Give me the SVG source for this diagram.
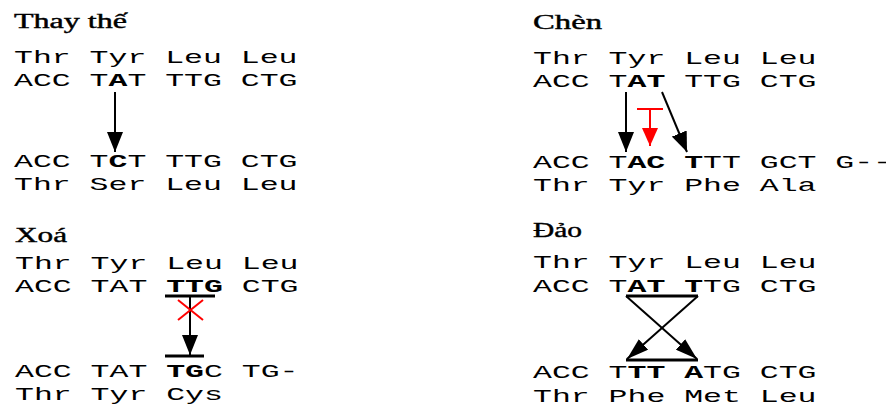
<svg xmlns="http://www.w3.org/2000/svg" width="886" height="408" viewBox="0 0 886 408">
<style>
.t{font-family:"Liberation Serif","Times New Roman",serif;font-weight:normal;font-size:20px;fill:#000;stroke:#000;stroke-width:0.4}
.m{font-family:"Liberation Mono","Courier New",monospace;font-size:19px;fill:#000}
.b{font-weight:bold}
.ln{stroke:#000;stroke-width:2;fill:none}
.rl{stroke:#f00;stroke-width:2;fill:none}
.bar{stroke:#000;stroke-width:3;fill:none}
</style>
<defs>
<marker id="ah" markerUnits="userSpaceOnUse" viewBox="0 0 20 16" refX="20" refY="8" markerWidth="20" markerHeight="16" orient="auto"><path d="M0,0 L20,8 L0,16 Z" fill="#000"/></marker>
<marker id="ahr" markerUnits="userSpaceOnUse" viewBox="0 0 18 16" refX="18" refY="8" markerWidth="18" markerHeight="16" orient="auto"><path d="M0,0 L18,8 L0,16 Z" fill="#f00"/></marker>
<marker id="ahd" markerUnits="userSpaceOnUse" viewBox="0 0 22 14" refX="22" refY="7" markerWidth="22" markerHeight="14" orient="auto"><path d="M0,0 L22,7 L0,14 Z" fill="#000"/></marker>
</defs>
<rect width="886" height="408" fill="#fff"/>
<g id="thay-the">
<text class="t" x="14" y="28" textLength="113" lengthAdjust="spacingAndGlyphs">Thay thế</text>
<text class="m" x="14" y="63" textLength="283.5" lengthAdjust="spacingAndGlyphs" xml:space="preserve">Thr Tyr Leu Leu</text>
<text class="m" x="14" y="86" textLength="283.5" lengthAdjust="spacingAndGlyphs" xml:space="preserve">ACC T<tspan class="b">A</tspan>T TTG CTG</text>
<text class="m" x="14" y="167" textLength="283.5" lengthAdjust="spacingAndGlyphs" xml:space="preserve">ACC T<tspan class="b">C</tspan>T TTG CTG</text>
<text class="m" x="14" y="190" textLength="283.5" lengthAdjust="spacingAndGlyphs" xml:space="preserve">Thr Ser Leu Leu</text>
</g>
<g id="chen">
<text class="t" x="533" y="29" textLength="69" lengthAdjust="spacingAndGlyphs">Chèn</text>
<text class="m" x="533" y="64" textLength="283.5" lengthAdjust="spacingAndGlyphs" xml:space="preserve">Thr Tyr Leu Leu</text>
<text class="m" x="533" y="87" textLength="283.5" lengthAdjust="spacingAndGlyphs" xml:space="preserve">ACC T<tspan class="b">AT</tspan> TTG CTG</text>
<text class="m" x="533" y="168" textLength="359" lengthAdjust="spacingAndGlyphs" xml:space="preserve">ACC T<tspan class="b">AC</tspan> <tspan class="b">T</tspan>TT GCT G--</text>
<text class="m" x="533" y="191" textLength="283.5" lengthAdjust="spacingAndGlyphs" xml:space="preserve">Thr Tyr Phe Ala</text>
</g>
<g id="xoa">
<text class="t" x="15" y="242" textLength="52" lengthAdjust="spacingAndGlyphs">Xoá</text>
<text class="m" x="15" y="269" textLength="283.5" lengthAdjust="spacingAndGlyphs" xml:space="preserve">Thr Tyr Leu Leu</text>
<text class="m" x="15" y="292" textLength="283.5" lengthAdjust="spacingAndGlyphs" xml:space="preserve">ACC TAT <tspan class="b">TTG</tspan> CTG</text>
<text class="m" x="15" y="377" textLength="283.5" lengthAdjust="spacingAndGlyphs" xml:space="preserve">ACC TAT <tspan class="b">TG</tspan>C TG-</text>
<text class="m" x="15" y="400" textLength="207.9" lengthAdjust="spacingAndGlyphs" xml:space="preserve">Thr Tyr Cys</text>
</g>
<g id="dao">
<text class="t" x="533" y="237" textLength="49" lengthAdjust="spacingAndGlyphs">Đảo</text>
<text class="m" x="533" y="268" textLength="283.5" lengthAdjust="spacingAndGlyphs" xml:space="preserve">Thr Tyr Leu Leu</text>
<text class="m" x="533" y="292" textLength="283.5" lengthAdjust="spacingAndGlyphs" xml:space="preserve">ACC T<tspan class="b">AT</tspan> <tspan class="b">T</tspan>TG CTG</text>
<text class="m" x="533" y="378" textLength="283.5" lengthAdjust="spacingAndGlyphs" xml:space="preserve">ACC T<tspan class="b">TT</tspan> <tspan class="b">A</tspan>TG CTG</text>
<text class="m" x="533" y="402" textLength="283.5" lengthAdjust="spacingAndGlyphs" xml:space="preserve">Thr Phe Met Leu</text>
</g>
<g id="connectors">
<line class="ln" x1="115" y1="92" x2="115" y2="152" marker-end="url(#ah)"/>
<line class="ln" x1="626" y1="92" x2="626" y2="152" marker-end="url(#ah)"/>
<line class="rl" x1="637" y1="109" x2="663" y2="109"/>
<line class="rl" x1="650" y1="109" x2="650" y2="146" marker-end="url(#ahr)"/>
<line class="ln" x1="662" y1="92" x2="687" y2="152" marker-end="url(#ah)"/>
<line class="bar" x1="165" y1="296" x2="215" y2="296"/>
<line class="ln" x1="190" y1="296" x2="190" y2="355" marker-end="url(#ah)"/>
<line class="bar" x1="165" y1="356" x2="204" y2="356"/>
<line class="rl" x1="178" y1="300" x2="203" y2="320"/>
<line class="rl" x1="178" y1="320" x2="203" y2="300"/>
<line class="bar" x1="626" y1="296" x2="698" y2="296"/>
<line class="bar" x1="626" y1="360" x2="698" y2="360"/>
<line class="ln" x1="626" y1="296" x2="697" y2="359" marker-end="url(#ahd)"/>
<line class="ln" x1="698" y1="296" x2="627" y2="359" marker-end="url(#ahd)"/>
</g>
</svg>
